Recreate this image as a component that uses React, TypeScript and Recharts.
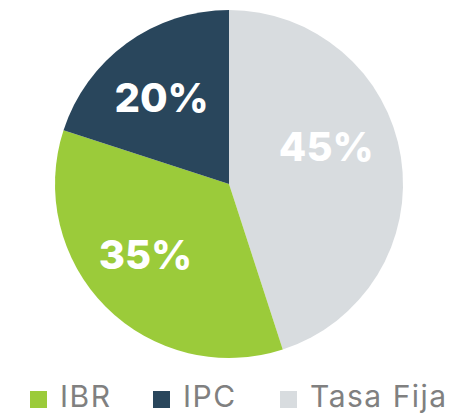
import React from 'react'
import { PieChart, Pie, Cell, Legend } from 'recharts'

const names = ['Tasa Fija', 'IBR', 'IPC']
const values = [45, 35, 20]
const colors = ['#D8DCDF', '#9BCB3A', '#29465C']
const legendOrder = ['IBR', 'IPC', 'Tasa Fija']

const data = names.map((name, i) => ({ name, value: values[i] }))

const RADIAN = Math.PI / 180

// small hand nudges so the labels sit where the original put them
const labelNudge: Record<string, { dx: number; dy: number }> = {
  'Tasa Fija': { dx: -11, dy: -20 },
  IBR: { dx: -6, dy: -7 },
  IPC: { dx: -3, dy: 2 },
}

const renderLabel = (props: any) => {
  const { cx, cy, midAngle, outerRadius, value, name } = props
  const r = outerRadius * 0.63
  const nudge = labelNudge[name] || { dx: 0, dy: 0 }
  const x = cx + r * Math.cos(-midAngle * RADIAN) + nudge.dx
  const y = cy + r * Math.sin(-midAngle * RADIAN) + nudge.dy
  return (
    <text
      x={x}
      y={y}
      fill="#fff"
      textAnchor="middle"
      dominantBaseline="central"
      style={{ fontFamily: 'Inter', fontWeight: 800, fontSize: 40 }}
    >
      {`${value}%`}
    </text>
  )
}

const CustomLegend = () => {
  const positions = [30, 153, 280]
  return (
    <div style={{ position: 'relative', width: 457, height: 28 }}>
      {legendOrder.map((n, i) => (
        <div
          key={n}
          style={{
            position: 'absolute',
            left: positions[i],
            top: 0,
            height: 28,
            display: 'flex',
            alignItems: 'center',
            fontFamily: 'Inter',
            fontSize: 30,
            lineHeight: '28px',
            letterSpacing: 1.5,
            color: '#808080',
            whiteSpace: 'nowrap',
          }}
        >
          <span
            style={{
              display: 'inline-block',
              position: 'relative',
              top: 3,
              width: 17,
              height: 17,
              background: colors[names.indexOf(n)],
              marginRight: 13,
            }}
          />
          {n}
        </div>
      ))}
    </div>
  )
}

const App = () => {
  return (
    <div style={{ position: 'absolute', left: 0, top: 0, background: '#fff' }}>
      <PieChart width={457} height={415} margin={{ top: 0, right: 0, bottom: 0, left: 0 }}>
        <Pie
          data={data}
          dataKey="value"
          nameKey="name"
          cx={229}
          cy={184}
          outerRadius={174}
          startAngle={90}
          endAngle={-270}
          stroke="none"
          labelLine={false}
          label={renderLabel}
          isAnimationActive={false}
        >
          {data.map((d, i) => (
            <Cell key={d.name} fill={colors[i]} />
          ))}
        </Pie>
        <Legend content={<CustomLegend />} wrapperStyle={{ left: 0, top: 382, width: 457, height: 28 }} />
      </PieChart>
    </div>
  )
}

export default App
